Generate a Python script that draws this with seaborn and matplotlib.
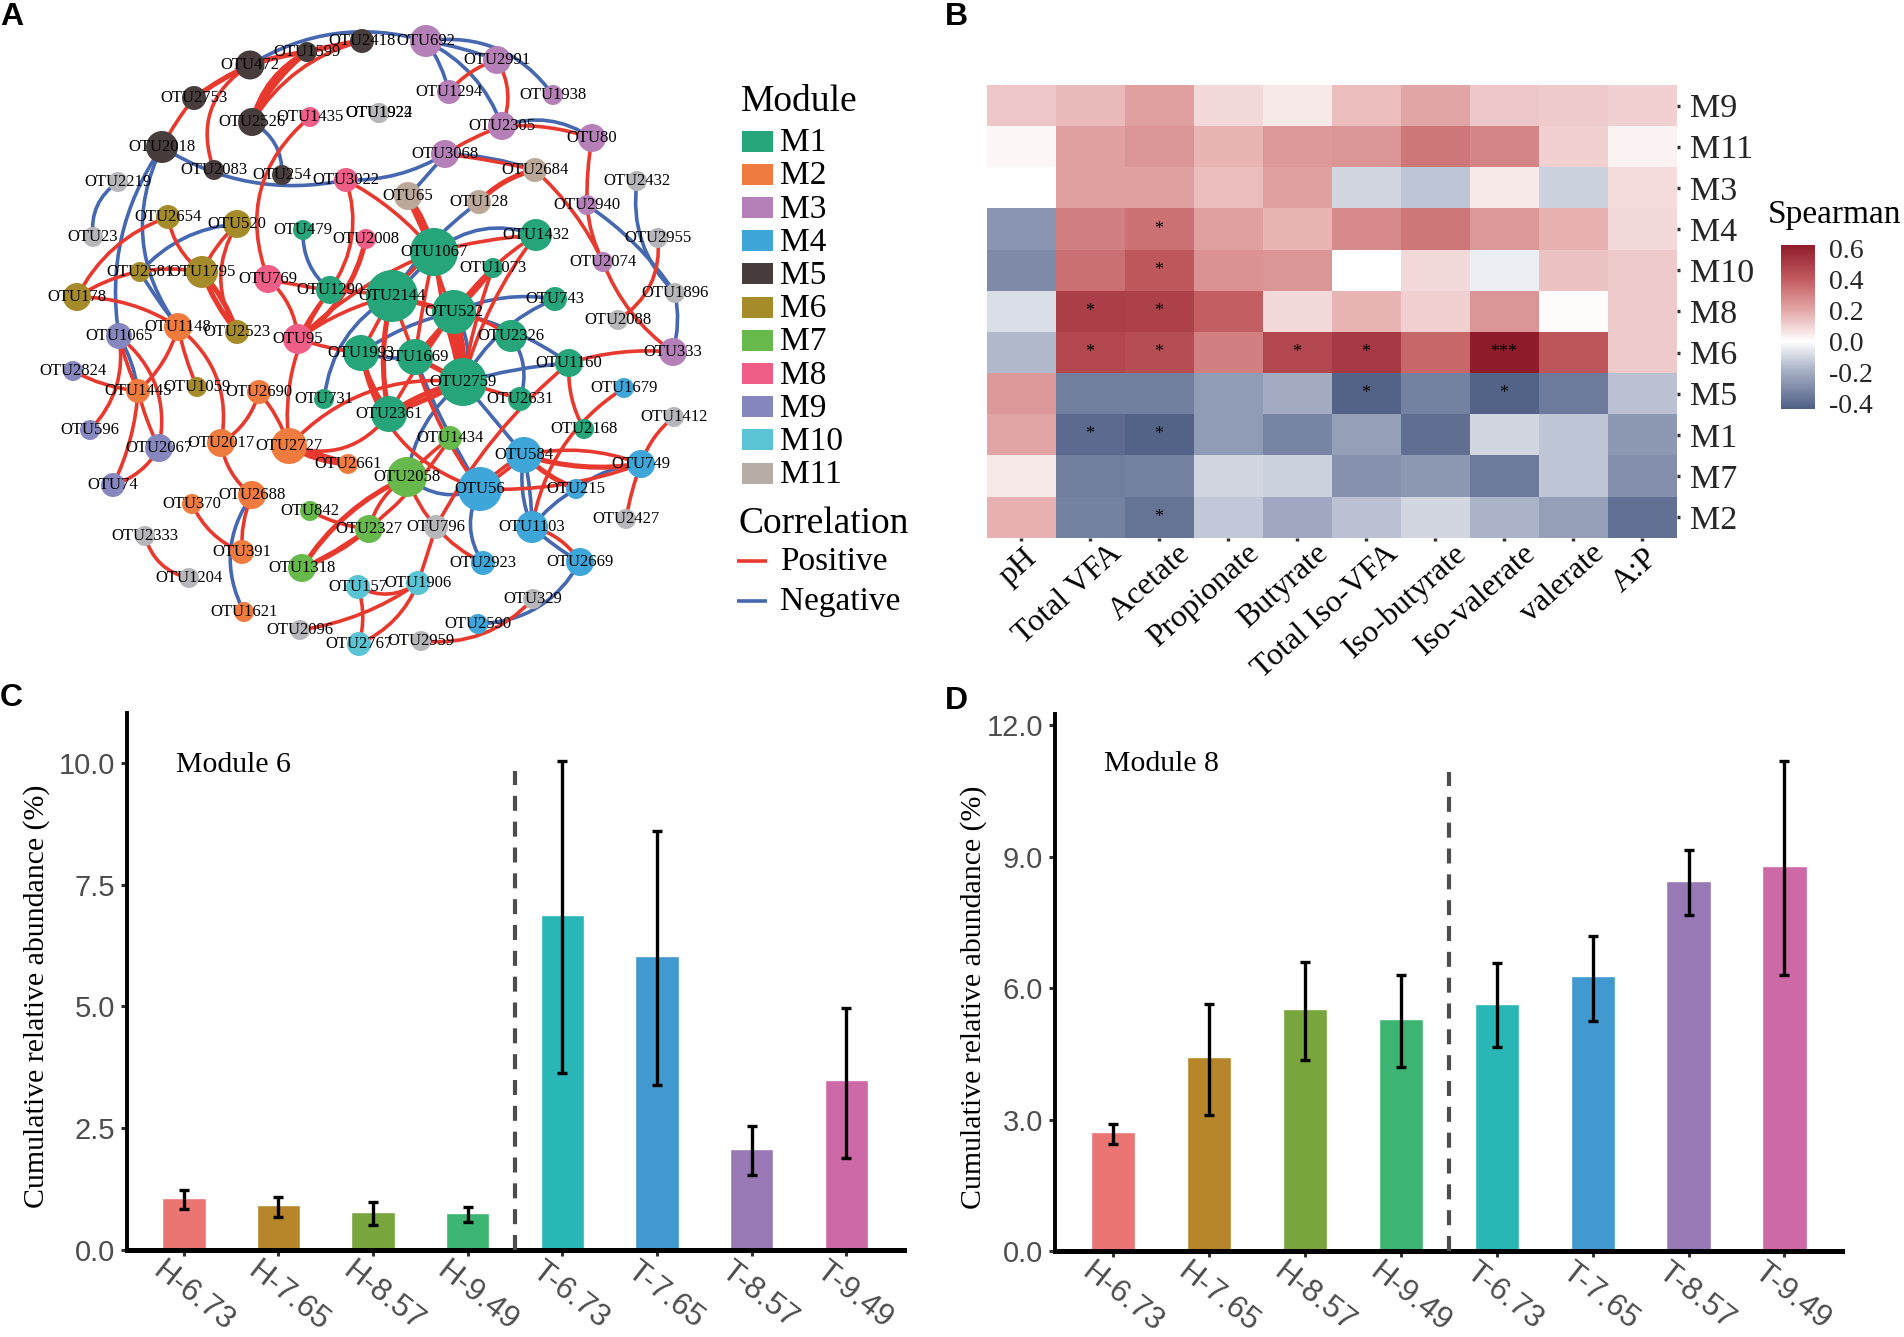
import numpy as np
import pandas as pd
import seaborn as sns
import matplotlib.pyplot as plt
from matplotlib.colors import LinearSegmentedColormap
from matplotlib.patches import FancyArrowPatch, Rectangle
from matplotlib.transforms import ScaledTranslation

FIG_W, FIG_H = 1904, 1337
SERIF = 'Liberation Serif'
SANS = 'Liberation Sans'

# ---- network nodes (A), positions
node_names = ['2418', '692', '1599', '472', '2753', '2526', '1435', '1924', '1922', '1294', '2018', '3068', '2083',
              '254', '3022', '2219', '65', '2654', '520', '479', '23', '2008', '1067', '2581', '1795', '769',
              '1290', '2144', '178', '522', '1065', '1148', '2523', '95', '2824', '1445', '1059', '2690', '731',
              '1993', '1669', '2759', '2361', '596', '2067', '2017', '2727', '2661', '1434', '2058', '74', '2688',
              '370', '842', '2327', '796', '2333', '391', '1318', '1204', '157', '1906', '1621', '2096', '2767',
              '2959', '2991', '1938', '2305', '80', '2684', '2432', '128', '2940', '1432', '2955', '2074', '1073',
              '743', '1896', '2088', '2326', '333', '1160', '1679', '2631', '1412', '2168', '584', '749', '215',
              '56', '2427', '1103', '2669', '2923', '329', '2590']
node_x = [362, 426, 307, 250, 194, 252, 310, 379, 379, 449, 162, 445, 214,
          282, 346, 118, 408, 168, 237, 303, 93, 366, 434, 140, 202, 268,
          330, 392, 77, 454, 119, 178, 237, 298, 73, 138, 197, 259, 324,
          361, 415, 463, 389, 90, 159, 221, 289, 348, 450, 407, 113, 252,
          192, 310, 369, 436, 145, 242, 302, 189, 358, 418, 244, 300, 359,
          421, 497, 553, 502, 592, 535, 637, 479, 587, 536, 658, 603, 493,
          555, 675, 618, 511, 673, 569, 624, 520, 674, 584, 524, 641, 576,
          480, 626, 532, 580, 483, 533, 478]
node_y = [41, 41, 52, 65, 98, 122, 117, 113, 113, 92, 147, 154, 170,
          175, 180, 182, 196, 217, 224, 230, 237, 239, 252, 272, 272, 279,
          290, 296, 297, 312, 336, 327, 332, 339, 371, 391, 387, 392, 399,
          353, 357, 382, 414, 430, 448, 443, 446, 464, 438, 477, 485, 495,
          504, 511, 529, 527, 536, 552, 568, 578, 587, 583, 612, 630, 644,
          641, 60, 95, 126, 138, 170, 181, 202, 205, 235, 238, 262, 268,
          299, 293, 320, 336, 352, 363, 388, 399, 417, 429, 455, 464, 489,
          489, 519, 527, 562, 563, 599, 624]
node_r = [12, 16, 10, 14.5, 12, 14, 10, 10, 10, 12, 16, 14, 10,
          10, 12, 10, 14, 12, 14, 10, 10, 10, 24, 10, 16, 14,
          14, 26, 14, 22, 13, 14, 12, 15, 10, 12, 10, 12, 10,
          18, 18, 24, 18, 10, 14, 14, 18, 10, 12, 20, 12, 14,
          10, 10, 14, 12, 10, 12, 14, 10, 12, 12, 10, 10, 12,
          10, 14, 10, 14, 14, 12, 10, 12, 10, 16, 10, 10, 10,
          12, 10, 10, 16, 14, 14, 10, 12, 10, 10, 18, 14, 10,
          22, 10, 16, 14, 12, 10, 10]
node_module = ['M5', 'M3', 'M5', 'M5', 'M5', 'M5', 'M8', 'NA', 'NA', 'M3', 'M5', 'M3', 'M5',
               'M5', 'M8', 'NA', 'M11', 'M6', 'M6', 'M1', 'NA', 'M8', 'M1', 'M6', 'M6', 'M8',
               'M1', 'M1', 'M6', 'M1', 'M9', 'M2', 'M6', 'M8', 'M9', 'M2', 'M6', 'M2', 'M1',
               'M1', 'M1', 'M1', 'M1', 'M9', 'M9', 'M2', 'M2', 'M2', 'M7', 'M7', 'M9', 'M2',
               'M2', 'M7', 'M7', 'NA', 'NA', 'M2', 'M7', 'NA', 'M10', 'M10', 'M2', 'NA', 'M10',
               'NA', 'M3', 'M3', 'M3', 'M3', 'M11', 'NA', 'M11', 'M3', 'M1', 'NA', 'M3', 'M1',
               'M1', 'NA', 'NA', 'M1', 'M3', 'M1', 'M4', 'M1', 'NA', 'M1', 'M4', 'M4', 'M4',
               'M4', 'NA', 'M4', 'M4', 'M4', 'NA', 'M4']

# ---- network edges: (from, to, curvature)
pos_edges = [('2018', '2753', -0.05), ('472', '2083', 0.4), ('2526', '2418', -0.2), ('1435', '769', 0.35),
             ('2654', '178', 0.2), ('178', '1795', -0.2), ('178', '1148', -0.15), ('2654', '1795', 0.2),
             ('520', '1795', 0.1), ('520', '2523', 0.3), ('769', '1290', 0.03), ('769', '95', -0.2),
             ('3022', '1290', -0.25), ('3022', '1067', -0.1), ('3068', '2305', -0.05), ('1294', '2991', -0.15),
             ('2991', '2305', -0.25), ('2305', '80', -0.1), ('80', '2940', 0.05), ('3068', '2684', -0.03),
             ('2684', '2074', -0.1), ('2940', '2074', 0.1), ('2074', '333', 0.15), ('2955', '2088', -0.3),
             ('1067', '1432', -0.05), ('1432', '522', 0.1), ('1432', '2759', 0.1), ('1073', '2759', 0.05),
             ('522', '2326', -0.1), ('333', '1160', 0.1), ('1160', '796', 0.1), ('1160', '2168', 0.15),
             ('796', '1906', 0.0), ('1906', '2767', -0.2), ('1906', '2096', -0.12), ('157', '1906', 0.3),
             ('157', '2767', -0.15), ('329', '2959', -0.25), ('1434', '1318', -0.15), ('1434', '2058', 0.05),
             ('2058', '2327', 0.2), ('2327', '1318', -0.1), ('842', '2327', 0.1), ('2058', '2923', 0.2),
             ('1993', '56', 0.3), ('2727', '2361', 0.35), ('2727', '2759', -0.25), ('2727', '1290', -0.2),
             ('2727', '2690', 0.1), ('2690', '2017', -0.2), ('2017', '1148', 0.3), ('2017', '2688', 0.2),
             ('2688', '391', 0.12), ('370', '391', 0.2), ('2333', '1204', 0.3), ('1065', '1445', 0.05),
             ('1065', '596', -0.25), ('1065', '2067', -0.3), ('2824', '1445', 0.1), ('1445', '74', -0.1),
             ('1445', '2067', 0.05), ('1148', '1445', -0.15), ('1148', '1059', 0.05), ('2067', '74', -0.2),
             ('2759', '2631', 0.0), ('584', '749', -0.15), ('56', '584', 0.05), ('56', '584', -0.1),
             ('56', '749', 0.1), ('1679', '1103', 0.22), ('1412', '749', 0.15), ('749', '2427', 0.05),
             ('1103', '2669', -0.2), ('1067', '1669', 0.02), ('2144', '1669', 0.0), ('95', '2144', -0.1),
             ('95', '1290', -0.05), ('95', '1067', -0.1), ('95', '1993', 0.05), ('1067', '2759', 0.05),
             ('1669', '56', 0.1), ('2361', '522', -0.03), ('1290', '2144', -0.03), ('2144', '1993', 0.0),
             ('1067', '2144', 0.1), ('1067', '522', 0.1)]
pos_edges_thick = [('2753', '472', -0.05), ('472', '1599', -0.05), ('1599', '2418', -0.03), ('2526', '1599', -0.12),
                   ('2526', '1599', -0.22), ('1795', '2523', -0.1), ('1795', '2523', 0.08), ('2008', '95', -0.2),
                   ('65', '1067', 0.03), ('65', '1067', -0.1), ('2684', '128', 0.15), ('1073', '522', -0.05),
                   ('2058', '1318', 0.15), ('2727', '2661', 0.12), ('2727', '2661', -0.02), ('584', '749', 0.12),
                   ('584', '215', 0.1), ('2144', '522', 0.0), ('522', '2759', 0.0), ('522', '2759', 0.12),
                   ('522', '2759', -0.12), ('1669', '522', 0.03), ('1669', '2759', 0.0), ('1993', '2361', 0.1),
                   ('2144', '2361', 0.12), ('2361', '2759', 0.03), ('2361', '2759', -0.1)]
neg_edges = [('472', '692', -0.22), ('2526', '254', -0.3), ('2018', '3022', 0.2), ('3022', '3068', 0.15),
             ('2018', '1065', 0.2), ('2018', '1148', 0.3), ('2219', '23', 0.3), ('520', '2581', 0.2),
             ('2581', '1148', 0.03), ('479', '1290', 0.25), ('65', '3068', 0.03), ('3068', '2684', -0.08),
             ('692', '1294', -0.1), ('692', '2305', -0.2), ('692', '1938', -0.3), ('692', '2991', -0.05),
             ('2305', '80', -0.25), ('2940', '1896', -0.1), ('2432', '1896', 0.25), ('1896', '333', -0.12),
             ('128', '2144', 0.1), ('1067', '1432', -0.28), ('522', '743', -0.15), ('743', '2759', 0.18),
             ('522', '1160', -0.1), ('2326', '2631', -0.25), ('2759', '1160', -0.05), ('2759', '584', 0.0),
             ('1669', '56', 0.05), ('2058', '2759', -0.2), ('2058', '56', 0.3), ('56', '2923', 0.3),
             ('2144', '731', 0.25), ('1067', '2144', -0.05), ('1993', '522', -0.1), ('522', '2759', -0.25),
             ('1993', '1669', 0.1), ('1065', '1445', -0.1), ('584', '1103', 0.15), ('584', '1103', -0.05),
             ('215', '749', -0.15), ('1103', '215', -0.1), ('1103', '2669', 0.05), ('2669', '2590', -0.28),
             ('2688', '1621', 0.3)]

module_names = ['M1', 'M2', 'M3', 'M4', 'M5', 'M6', 'M7', 'M8', 'M9', 'M10', 'M11']
module_colors = ['#26A57A', '#F07B3F', '#B57FB8', '#3EA6D8', '#483D3D', '#A68B2B',
                 '#66B94A', '#EE5E87', '#8787C0', '#5BC4D4', '#B5ADA6']
node_module_colors = dict(zip(module_names, module_colors))
node_module_colors['M11'] = '#BCA898'
node_module_colors['NA'] = '#B7B7BB'
corr_names = ['Positive', 'Negative']
corr_colors = ['#E8392F', '#4568B0']

# ---- heatmap (B)
heat_rows = ['M9', 'M11', 'M3', 'M4', 'M10', 'M8', 'M6', 'M5', 'M1', 'M7', 'M2']
heat_cols = ['pH', 'Total VFA', 'Acetate', 'Propionate', 'Butyrate', 'Total Iso-VFA',
             'Iso-butyrate', 'Iso-valerate', 'valerate', 'A:P']
heat_vals = [[.13, .16, .22, .09, .05, .15, .21, .13, .12, .11],
             [.02, .22, .25, .17, .24, .25, .33, .29, .11, .03],
             [.00, .22, .22, .15, .22, -.10, -.14, .05, -.11, .08],
             [-.27, .31, .34, .22, .17, .28, .33, .24, .18, .09],
             [-.30, .35, .41, .26, .25, .00, .09, -.04, .14, .12],
             [-.08, .50, .49, .39, .09, .17, .11, .25, .01, .12],
             [-.17, .47, .45, .31, .47, .52, .37, .62, .42, .12],
             [.24, -.34, -.34, -.25, -.20, -.42, -.33, -.42, -.35, -.15],
             [.21, -.40, -.42, -.25, -.32, -.24, -.39, -.10, -.14, -.26],
             [.05, -.34, -.33, -.10, -.11, -.28, -.26, -.35, -.14, -.29],
             [.18, -.33, -.37, -.13, -.21, -.15, -.10, -.18, -.24, -.38]]
heat_stars = [['', '', '', '', '', '', '', '', '', ''],
              ['', '', '', '', '', '', '', '', '', ''],
              ['', '', '', '', '', '', '', '', '', ''],
              ['', '', '*', '', '', '', '', '', '', ''],
              ['', '', '*', '', '', '', '', '', '', ''],
              ['', '*', '*', '', '', '', '', '', '', ''],
              ['', '*', '*', '', '*', '*', '', '***', '', ''],
              ['', '', '', '', '', '*', '', '*', '', ''],
              ['', '*', '*', '', '', '', '', '', '', ''],
              ['', '', '', '', '', '', '', '', '', ''],
              ['', '', '*', '', '', '', '', '', '', '']]
cbar_ticks = [-0.4, -0.2, 0.0, 0.2, 0.4, 0.6]

# ---- bars (C, D)
groups = ['H-6.73', 'H-7.65', 'H-8.57', 'H-9.49', 'T-6.73', 'T-7.65', 'T-8.57', 'T-9.49']
bar_colors = ['#EB7572', '#B8862A', '#78A53C', '#3DB572', '#29B6B6', '#4199D0', '#9879B5', '#CC69A6']
m6_mean = [1.07, 0.92, 0.79, 0.76, 6.88, 6.03, 2.08, 3.48]
m6_low = [0.84, 0.67, 0.52, 0.57, 3.64, 3.38, 1.53, 1.88]
m6_high = [1.23, 1.09, 0.99, 0.88, 10.04, 8.60, 2.54, 4.97]
m8_mean = [2.71, 4.42, 5.52, 5.30, 5.65, 6.28, 8.44, 8.78]
m8_low = [2.45, 3.10, 4.36, 4.21, 4.65, 5.26, 7.66, 6.31]
m8_high = [2.89, 5.64, 6.60, 6.29, 6.58, 7.19, 9.16, 11.18]

sns.set_theme(style='white')
plt.rcParams['font.family'] = [SERIF, 'DejaVu Sans']

fig = plt.figure(figsize=(FIG_W / 100, FIG_H / 100), dpi=100)


def px_axes(left, top, right, bottom):
    return fig.add_axes([left / FIG_W, 1 - bottom / FIG_H, (right - left) / FIG_W, (bottom - top) / FIG_H])


def shift_label(lab, dx_px, dy_px):
    # move a tick label by picture pixels, y up
    lab.set_transform(lab.get_transform() + ScaledTranslation(dx_px / 100, dy_px / 100, fig.dpi_scale_trans))


# ---- A: network, axes in picture pixels
ax_a = px_axes(0, 0, 940, 680)
ax_a.set_xlim(0, 940)
ax_a.set_ylim(680, 0)
ax_a.axis('off')

nodes = pd.DataFrame({'name': node_names, 'x': node_x, 'y': node_y, 'r': node_r, 'module': node_module})
nodes['area'] = (2 * nodes['r'] * 0.72) ** 2
pos = {n: (x, y) for n, x, y in zip(node_names, node_x, node_y)}


def draw_edges(edges, color, lw):
    for a, b, rad in edges:
        ax_a.add_patch(FancyArrowPatch(pos[a], pos[b], connectionstyle=f'arc3,rad={rad}', arrowstyle='-',
                                       color=color, lw=lw, shrinkA=0, shrinkB=0, zorder=1))


draw_edges(neg_edges, corr_colors[1], 2.6)
draw_edges(pos_edges, corr_colors[0], 2.6)
draw_edges(pos_edges_thick, corr_colors[0], 3.7)

sns.scatterplot(data=nodes, x='x', y='y', hue='module', palette=node_module_colors, size='area',
                sizes=(nodes['area'].min(), nodes['area'].max()),
                size_norm=(nodes['area'].min(), nodes['area'].max()),
                linewidth=0, legend=False, ax=ax_a, zorder=2)
ax_a.set_xlim(0, 940)
ax_a.set_ylim(680, 0)
ax_a.set_xlabel('')
ax_a.set_ylabel('')
for name, x, y in zip(node_names, node_x, node_y):
    ax_a.text(x, y, 'OTU' + name, fontsize=12, color='black', ha='center', va='center', zorder=3)

# legends
ax_a.text(741, 102, 'Module', fontsize=27, color='black', va='center')
for i, (m, c) in enumerate(zip(module_names, module_colors)):
    yc = 141 + i * 33.2
    ax_a.add_patch(Rectangle((742, yc - 10.5), 31, 21, color=c, lw=0, zorder=2))
    ax_a.text(780, yc + 2, m, fontsize=24, color='black', va='center')
ax_a.text(739, 524, 'Correlation', fontsize=27, color='black', va='center')
for i, (m, c) in enumerate(zip(corr_names, corr_colors)):
    yc = 561 + i * 40
    ax_a.plot([737, 767], [yc, yc], color=c, lw=2.6, solid_capstyle='butt')
    ax_a.text(780, yc + 1, m, fontsize=24, color='black', va='center')

# ---- B: heatmap
ax_b = px_axes(986.5, 85, 1676.5, 537.7)
cax = px_axes(1780.6, 244.7, 1815, 408.8)
heat_df = pd.DataFrame(heat_vals, index=heat_rows, columns=heat_cols)
vmin, vmax = -0.436, 0.625
frac = lambda v: (v - vmin) / (vmax - vmin)
spear_cmap = LinearSegmentedColormap.from_list(
    'spearman', [(0, '#4F5F85'), (frac(-0.2), '#A3ACC3'), (frac(0), '#FFFFFF'), (frac(0.2), '#E4A8A8'),
                 (frac(0.4), '#C25C60'), (1, '#8E1B2A')])
sns.heatmap(heat_df, ax=ax_b, cmap=spear_cmap, vmin=vmin, vmax=vmax, annot=np.array(heat_stars), fmt='',
            annot_kws={'fontsize': 13, 'color': 'black'}, cbar_ax=cax, cbar_kws={'ticks': cbar_ticks})
ax_b.yaxis.tick_right()
ax_b.tick_params(axis='y', labelright=True, labelleft=False, right=True, left=False, length=2.5, width=2.5,
                 color='#333333', labelsize=24.5, rotation=0, pad=7)
ax_b.tick_params(axis='x', bottom=True, length=2.5, width=2.5, color='#333333', pad=4)
plt.setp(ax_b.get_xticklabels(), rotation=42, ha='right', rotation_mode='anchor', fontsize=23, color='black')
# short labels sit nearer their tick than the long ones
for lab in ax_b.get_xticklabels():
    if lab.get_text() in ('pH', 'A:P'):
        shift_label(lab, 2, 3)
    else:
        shift_label(lab, 18, 8)
cax.tick_params(axis='y', left=True, right=True, direction='in', length=6, width=1.2, color='white',
                labelsize=20, pad=10)
cax.set_yticklabels(['-0.4', '-0.2', '0.0', '0.2', '0.4', '0.6'])
ax_a.text(1768, 215, 'Spearman', fontsize=24, color='black', va='center', clip_on=False)


# ---- C, D: bars
def bar_panel(ax, mean, low, high, xlim, ylim, yticks, ylabels, vline_top, title, title_xy, labelpad):
    df = pd.DataFrame({'group': groups, 'mean': mean})
    sns.barplot(data=df, x='group', y='mean', hue='group', palette=bar_colors, saturation=1, width=0.46,
                legend=False, ax=ax)
    m = np.array(mean)
    ax.errorbar(range(len(groups)), m, yerr=[m - np.array(low), np.array(high) - m], fmt='none', ecolor='black',
                elinewidth=2.4, capsize=3.6, capthick=2.4, zorder=4)
    ax.plot([3.5, 3.5], [0, vline_top], color='#4D4D4D', lw=3, ls=(0, (3.6, 2.6)), zorder=3)
    ax.set_xlim(*xlim)
    ax.set_ylim(*ylim)
    ax.set_yticks(yticks)
    ax.set_yticklabels(ylabels, fontfamily=SANS, fontsize=21, color='#4D4D4D')
    ax.set_xlabel('')
    ax.set_ylabel('Cumulative relative abundance (%)', fontsize=21.5, color='black', labelpad=labelpad, y=0.472)
    ax.tick_params(axis='both', bottom=True, left=True, length=4.5, width=2.2, color='#333333', pad=4)
    ax.tick_params(axis='x', pad=0)
    plt.setp(ax.get_xticklabels(), rotation=-38, ha='left', va='top', rotation_mode='anchor', fontfamily=SANS,
             fontsize=22.5, color='#4D4D4D')
    for lab in ax.get_xticklabels():
        shift_label(lab, -18, 0)
    sns.despine(ax=ax)
    ax.spines['left'].set_linewidth(2.8)
    ax.spines['bottom'].set_linewidth(3.6)
    ax.spines['left'].set_color('black')
    ax.spines['bottom'].set_color('black')
    ax.text(title_xy[0], title_xy[1], title, fontsize=21.5, color='black', va='center')


ax_c = px_axes(127, 713, 904, 1250)
bar_panel(ax_c, m6_mean, m6_low, m6_high, (-0.6, 7.61), (0, 11.02), [0, 2.5, 5, 7.5, 10],
          ['0.0', '2.5', '5.0', '7.5', '10.0'], 9.82, 'Module 6', (-0.08, 9.95), 6)
ax_d = px_axes(1055, 714, 1842, 1251)
bar_panel(ax_d, m8_mean, m8_low, m8_high, (-0.605, 7.6), (0, 12.26), [0, 3, 6, 9, 12],
          ['0.0', '3.0', '6.0', '9.0', '12.0'], 10.93, 'Module 8', (-0.09, 11.12), 0)

# panel letters
for letter, lx, ly in zip(['A', 'B', 'C', 'D'], [0, 945, 0, 945], [17, 17, 698, 701]):
    fig.text(lx / FIG_W, 1 - ly / FIG_H, letter, fontfamily=SANS, fontweight='bold', fontsize=23, color='black',
             ha='left', va='center')

fig.savefig('out.png', dpi=100)
